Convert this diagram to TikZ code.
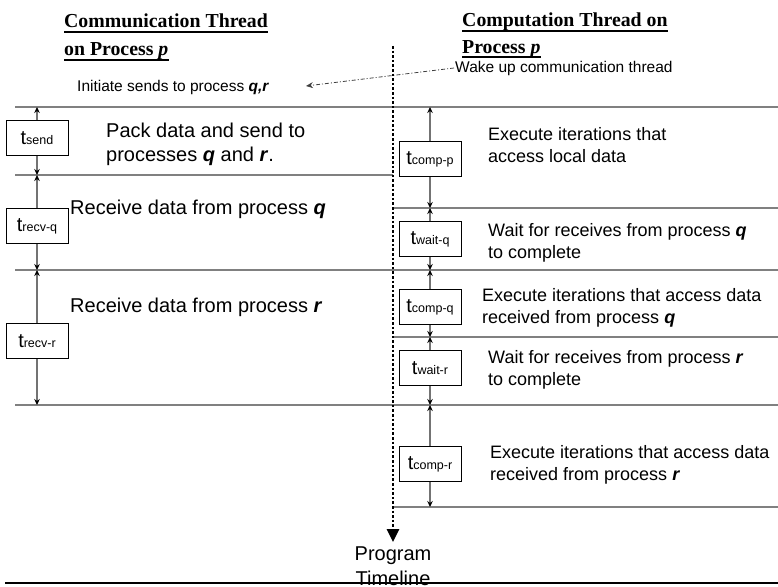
\documentclass[tikz,border=0pt]{standalone}
\usepackage{fontspec}
\setmainfont{Liberation Serif}
\setsansfont{Liberation Sans}
\usetikzlibrary{arrows.meta}

\newcommand{\tlab}[1]{{\fontsize{20}{20}\selectfont t}{\fontsize{12.5}{12.5}\selectfont #1}}
\newcommand{\bq}{\textbf{\textit{q}}}
\newcommand{\br}{\textbf{\textit{r}}}

\begin{document}
\begin{tikzpicture}[x=1pt,y=-1pt,
  head/.style={anchor=base west,inner sep=0pt,font=\fontsize{19.8}{24}\selectfont\bfseries},
  small/.style={anchor=west,inner sep=1pt,font=\sffamily\fontsize{15.5}{18}\selectfont},
  big/.style={anchor=west,align=left,inner sep=0pt,font=\sffamily\fontsize{20}{24}\selectfont},
  mid/.style={anchor=west,align=left,inner sep=0pt,font=\sffamily\fontsize{18}{21.5}\selectfont},
  sep/.style={draw=black!50,line width=1.4pt},
  tbox/.style={draw,fill=white,line width=0.8pt,minimum width=62pt,minimum height=35pt,inner sep=1pt,font=\sffamily},
  span/.style={draw=black!55,line width=1.3pt,-{Stealth[length=6pt,width=5.5pt,color=black]}},
  timeline/.style={line width=2.6pt,dash pattern=on 2.6pt off 2pt,-{Triangle[length=13pt,width=12pt]}},
  wakeup/.style={black!75,line width=0.8pt,dash pattern=on 4pt off 2pt on 1pt off 2pt,-{Stealth[length=7pt,width=6pt]}}]
\useasboundingbox (0,0) rectangle (778,586);

\node[head] (commA) at (64,28) {Communication Thread};
\node[head] (commB) at (64,56) {on Process \textit{p}};
\node[head] (compA) at (462,27) {Computation Thread on};
\node[head] (compB) at (462,53) {Process \textit{p}};
\foreach \h in {commA,commB,compA,compB}
    \draw[line width=1.3pt] ([yshift=-4pt]\h.base west) -- ([yshift=-4pt]\h.base east);

\node[small] (initiate) at (76,87) {Initiate sends to process \textbf{\textit{q,r}}};
\node[small] (wake) at (454,68) {Wake up communication thread};
\coordinate (sendtip) at (306,86);
\draw[wakeup] (wake.west) -- (sendtip);

% levels
\coordinate (hA) at (0,107);
\coordinate (hB) at (0,175);
\coordinate (hC) at (0,208);
\coordinate (hD) at (0,270);
\coordinate (hE) at (0,337);
\coordinate (hF) at (0,405);
\coordinate (hG) at (0,507);
\foreach \y/\a/\b in {107/15/778,175/15/393,208/393/778,270/15/778,337/393/778,405/15/778,507/393/778}
    \draw[sep] (\a,\y) -- (\b,\y);

\coordinate (tltop) at (393,46);
\coordinate (tlbot) at (393,542);
\draw[timeline] (tltop) -- (tlbot);
\node[anchor=north,align=center,inner sep=0pt,font=\sffamily\fontsize{20}{25}\selectfont] (prog) at (393,547) {Program\\Timeline};
\draw[line width=1.2pt] (5,583) -- (778,583);

\foreach \nm/\x/\y/\sub/\up/\dn in {tsend/37/138/send/hA/hB,trecvq/37/226/recv-q/hB/hD,trecvr/37/341/recv-r/hD/hF,
    tcompp/430/159/comp-p/hA/hC,twaitq/430/239/wait-q/hC/hD,tcompq/430/307/comp-q/hD/hE,
    twaitr/430/368/wait-r/hE/hF,tcompr/430/464/comp-r/hF/hG}
{
    \node[tbox] (\nm) at (\x,\y) {\tlab{\sub}};
    \draw[span] (\nm) -- (\nm |- \up);
    \draw[span] (\nm) -- (\nm |- \dn);
}

\node[big] (pack) at (106,144) {Pack data and send to\\processes \bq{} and \br.};
\node[big] (recvq) at (70,209) {Receive data from process \bq};
\node[big] (recvr) at (70,307) {Receive data from process \br};

\node[mid] (execp) at (488,145) {Execute iterations that\\access local data};
\node[mid] (waitq) at (488,243) {Wait for receives from process \bq\\to complete};
\node[mid] (execq) at (482,308) {Execute iterations that access data\\received from process \bq};
\node[mid] (waitr) at (488,370) {Wait for receives from process \br\\to complete};
\node[mid] (execr) at (490,465) {Execute iterations that access data\\received from process \br};
\end{tikzpicture}
\end{document}
